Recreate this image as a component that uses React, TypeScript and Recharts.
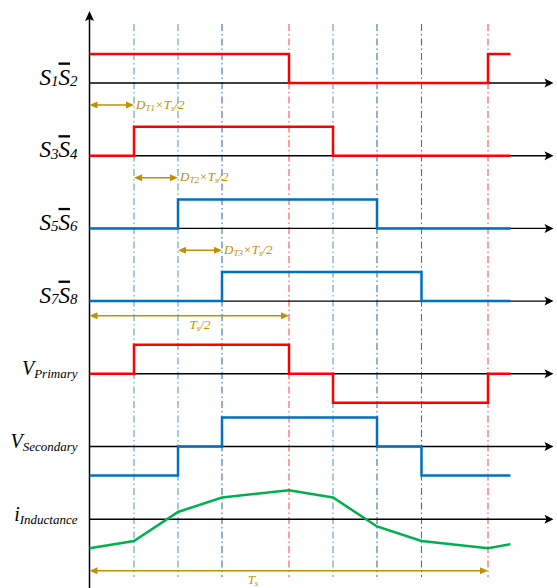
import React from 'react';
import { ComposedChart, Line, XAxis, YAxis, ReferenceLine } from 'recharts';

// switching instants (time units, one period Ts = 398.5)
const times = [0, 44.5, 88.5, 132.5, 199.5, 243.5, 287.5, 332, 398.5, 421];
const s12 = [1, 1, 1, 1, 0, 0, 0, 0, 1, 1];
const s34 = [0, 1, 1, 1, 1, 0, 0, 0, 0, 0];
const s56 = [0, 0, 1, 1, 1, 1, 0, 0, 0, 0];
const s78 = [0, 0, 0, 1, 1, 1, 1, 0, 0, 0];
const vPrimary = [0, 1, 1, 1, 0, -1, -1, -1, 0, 0];
const vSecondary = [-1, -1, 0, 1, 1, 1, 0, -1, -1, -1];
const iInductance = [-1, -0.75, 0.25, 0.75, 1, 0.75, -0.25, -0.75, -1, -0.86];

const guideTimes = [44.5, 88.5, 132.5, 199.5, 243.5, 287.5, 332, 398.5];
const guideKinds = ['light', 'light', 'dark', 'red', 'light', 'dark', 'dark', 'red'];

const W = 557;
const H = 588;
const AMP = 29;
const FONT = '"Liberation Serif", "Times New Roman", serif';
const RED = '#FF0000';
const BLUE = '#0070C0';
const GREEN = '#00B050';
const GOLD = '#BF9000';

const chartData = times.map((t, i) => ({
  t,
  s12: s12[i],
  s34: s34[i],
  s56: s56[i],
  s78: s78[i],
  vp: vPrimary[i],
  vs: vSecondary[i],
  il: iInductance[i],
}));

type Channel = {
  key: string;
  color: string;
  step: boolean;
  label: { main: string; sub: string; main2?: string; sub2?: string };
};

const channels: Channel[] = [
  { key: 's12', color: RED, step: true, label: { main: 'S', sub: '1', main2: 'S', sub2: '2' } },
  { key: 's34', color: RED, step: true, label: { main: 'S', sub: '3', main2: 'S', sub2: '4' } },
  { key: 's56', color: BLUE, step: true, label: { main: 'S', sub: '5', main2: 'S', sub2: '6' } },
  { key: 's78', color: BLUE, step: true, label: { main: 'S', sub: '7', main2: 'S', sub2: '8' } },
  { key: 'vp', color: RED, step: true, label: { main: 'V', sub: 'Primary' } },
  { key: 'vs', color: BLUE, step: true, label: { main: 'V', sub: 'Secondary' } },
  { key: 'il', color: GREEN, step: false, label: { main: 'i', sub: 'Inductance' } },
];

const baseline = (k: number) => 83 + 72.7 * k;

const ChannelLabel = ({ x, y, label }: any) => {
  const isSwitch = !!label.main2;
  const big = isSwitch ? 23 : 20;
  const small = isSwitch ? 15 : 13;
  return (
    <text x={x} y={y} textAnchor="end" fontFamily={FONT} fontStyle="italic" fontSize={big} fill="#000">
      <tspan fontSize={big}>{label.main}</tspan>
      <tspan fontSize={small} dy={isSwitch ? 1.5 : 3}>
        {label.sub}
      </tspan>
      {isSwitch && (
        <>
          <tspan fontSize={big} dy={-1.5} style={{ textDecoration: 'overline' }}>
            {label.main2}
          </tspan>
          <tspan fontSize={small} dy={1.5}>
            {label.sub2}
          </tspan>
        </>
      )}
    </text>
  );
};

const renderBaseline = (props: any, ch: Channel) => {
  const { x1, y1, x2, y2 } = props;
  return (
    <g>
      <line x1={x1} y1={y1} x2={x2 - 5} y2={y2} stroke="#000" strokeWidth={1.4} />
      <polygon
        points={`${x2},${y2} ${x2 - 9},${y2 - 4.5} ${x2 - 7},${y2} ${x2 - 9},${y2 + 4.5}`}
        fill="#000"
      />
      <ChannelLabel x={x1 - 12} y={y1 + 1.5} label={ch.label} />
    </g>
  );
};

const renderVertAxis = (props: any) => {
  const { x1, y1, x2, y2 } = props;
  const top = Math.min(y1, y2);
  const bottom = Math.max(y1, y2);
  return (
    <g>
      <line x1={x1} y1={bottom} x2={x2} y2={top + 5} stroke="#000" strokeWidth={1.5} />
      <polygon
        points={`${x1},${top} ${x1 - 4.5},${top + 10} ${x1},${top + 8} ${x1 + 4.5},${top + 10}`}
        fill="#000"
      />
    </g>
  );
};

const DimText = ({ x, y, anchor, parts }: any) => (
  <text x={x} y={y} textAnchor={anchor} fontFamily={FONT} fontStyle="italic" fontSize={13} fill={GOLD}>
    {parts.map((p: any, i: number) => (
      <tspan key={i} fontSize={p.sub ? 9 : 13} dy={p.dy || 0}>
        {p.text}
      </tspan>
    ))}
  </text>
);

const renderDim = (props: any, parts: any[], placement: 'right' | 'below', labelX?: number) => {
  const { x1, y1, x2 } = props;
  const a = Math.min(x1, x2);
  const b = Math.max(x1, x2);
  const y = y1;
  const head = 8;
  return (
    <g>
      <line x1={a + 3} y1={y} x2={b - 3} y2={y} stroke={GOLD} strokeWidth={1.4} />
      <polygon points={`${a},${y} ${a + head},${y - 3.5} ${a + head},${y + 3.5}`} fill={GOLD} />
      <polygon points={`${b},${y} ${b - head},${y - 3.5} ${b - head},${y + 3.5}`} fill={GOLD} />
      {placement === 'right' ? (
        <DimText x={b + 2} y={y + 3.5} anchor="start" parts={parts} />
      ) : (
        <DimText x={labelX ?? (a + b) / 2} y={y + 13} anchor="middle" parts={parts} />
      )}
    </g>
  );
};

const dLabel = (n: string) => [
  { text: 'D' },
  { text: 'T' + n, sub: true, dy: 2 },
  { text: '×T', dy: -2 },
  { text: 's', sub: true, dy: 2 },
  { text: '/2', dy: -2 },
];

const guideColor = (k: string) =>
  k === 'red' ? '#FF6B6B' : k === 'light' ? '#5B9BD5' : '#2E75B6';

const App: React.FC = () => {
  const xDomain: [number, number] = [-89.5, W - 89.5];
  const axisEnd = 464;
  return (
    <div style={{ position: 'absolute', left: 0, top: 0, width: W, height: H, background: '#fff' }}>
      <ComposedChart width={W} height={H} data={chartData} margin={{ top: 0, right: 0, bottom: 0, left: 0 }}>
        <XAxis dataKey="t" type="number" domain={xDomain} allowDataOverflow hide />
        <YAxis yAxisId="frame" type="number" domain={[0, H]} reversed allowDataOverflow hide />
        {channels.map((ch, k) => {
          const B = baseline(k);
          return (
            <YAxis
              key={ch.key}
              yAxisId={ch.key}
              type="number"
              domain={[-(H - B) / AMP, B / AMP]}
              allowDataOverflow
              hide
            />
          );
        })}

        {guideTimes.map((t, i) => (
          <ReferenceLine
            key={'g' + i}
            yAxisId="frame"
            segment={[
              { x: t, y: 24 },
              { x: t, y: 577 },
            ]}
            stroke={guideColor(guideKinds[i])}
            strokeWidth={guideKinds[i] === 'red' ? 1.3 : 1.1}
            strokeDasharray="7 3 1.5 3"
          />
        ))}

        {channels.map((ch) => (
          <ReferenceLine
            key={'b' + ch.key}
            yAxisId={ch.key}
            segment={[
              { x: 0, y: 0 },
              { x: axisEnd, y: 0 },
            ]}
            shape={(p: any) => renderBaseline(p, ch)}
          />
        ))}

        <ReferenceLine
          yAxisId="frame"
          segment={[
            { x: 0, y: H },
            { x: 0, y: 11 },
          ]}
          shape={renderVertAxis}
        />

        <ReferenceLine
          yAxisId="frame"
          segment={[
            { x: times[0], y: 105 },
            { x: times[1], y: 105 },
          ]}
          shape={(p: any) => renderDim(p, dLabel('1'), 'right')}
        />
        <ReferenceLine
          yAxisId="frame"
          segment={[
            { x: times[1], y: 177.7 },
            { x: times[2], y: 177.7 },
          ]}
          shape={(p: any) => renderDim(p, dLabel('2'), 'right')}
        />
        <ReferenceLine
          yAxisId="frame"
          segment={[
            { x: times[2], y: 250.3 },
            { x: times[3], y: 250.3 },
          ]}
          shape={(p: any) => renderDim(p, dLabel('3'), 'right')}
        />
        <ReferenceLine
          yAxisId="frame"
          segment={[
            { x: times[0], y: 315.7 },
            { x: times[4], y: 315.7 },
          ]}
          shape={(p: any) =>
            renderDim(p, [{ text: 'T' }, { text: 's', sub: true, dy: 2 }, { text: '/2', dy: -2 }], 'below', 200)
          }
        />
        <ReferenceLine
          yAxisId="frame"
          segment={[
            { x: times[0], y: 570.7 },
            { x: times[8], y: 570.7 },
          ]}
          shape={(p: any) => renderDim(p, [{ text: 'T' }, { text: 's', sub: true, dy: 2 }], 'below', 253)}
        />

        {channels.map((ch) => (
          <Line
            key={ch.key}
            yAxisId={ch.key}
            dataKey={ch.key}
            type={ch.step ? 'stepAfter' : 'linear'}
            stroke={ch.color}
            strokeWidth={2.5}
            dot={false}
            activeDot={false}
            isAnimationActive={false}
          />
        ))}
      </ComposedChart>
    </div>
  );
};

export default App;
